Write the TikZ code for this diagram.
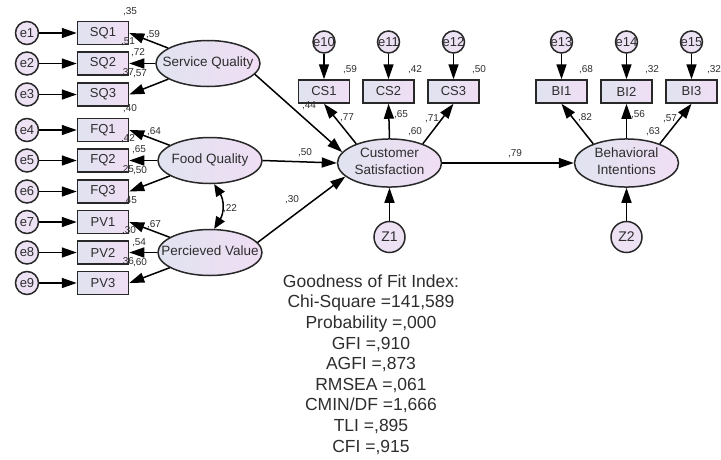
\documentclass[tikz,border=0pt]{standalone}
\usepackage{fontspec}
\setmainfont{Liberation Sans}
\usetikzlibrary{arrows.meta,shapes.geometric}
\definecolor{fillL}{RGB}{224,227,240}
\definecolor{fillR}{RGB}{240,222,244}
\definecolor{errfill}{RGB}{236,226,244}
\definecolor{edge}{RGB}{40,40,40}
\definecolor{txt}{RGB}{45,45,45}
\newcommand{\ztext}[1]{\makebox[0pt][c]{\begin{tabular}{@{}c@{}}#1\end{tabular}}}
\begin{document}
\begin{tikzpicture}[x=1pt,y=-1pt,
 every node/.style={text=txt},
 obs/.style={draw=edge, line width=1.5pt, left color=fillL, right color=fillR, minimum width=51pt, minimum height=23pt, inner sep=0pt, font=\fontsize{13}{15}\selectfont},
 lat/.style={ellipse, draw=edge, line width=1.5pt, left color=fillL, right color=fillR, minimum width=104pt, minimum height=46pt, inner sep=0pt, font=\fontsize{13.5}{17}\selectfont},
 err/.style={circle, draw=edge, line width=1.5pt, fill=errfill, minimum size=23pt, inner sep=0pt, font=\fontsize{13}{15}\selectfont},
 errs/.style={err, minimum size=22pt},
 dist/.style={err, minimum size=31pt, font=\fontsize{14}{16}\selectfont},
 num/.style={font=\fontsize{10}{12}\selectfont, inner sep=0pt},
 arr/.style={draw=black, line width=1.5pt, -{Triangle[length=15pt,width=10pt]}},
 dbl/.style={draw=black, line width=1.5pt, {Triangle[length=12pt,width=10pt]}-{Triangle[length=12pt,width=10pt]}},
]
\useasboundingbox (0,0) rectangle (721,459);

% error terms left
\foreach \i/\y in {1/33,2/63.5,3/94.5,4/130,5/160.5,6/191.5,7/222,8/252.5,9/283}
  \node[err] (e\i) at (27,\y) {\makebox[0pt]{e\i}};
% observed left
\node[obs] (SQ1) at (103,33) {SQ1};
\node[obs] (SQ2) at (103,63.5) {SQ2};
\node[obs] (SQ3) at (103,94.5) {SQ3};
\node[obs] (FQ1) at (103,130) {FQ1};
\node[obs] (FQ2) at (103,160.5) {FQ2};
\node[obs] (FQ3) at (103,191.5) {FQ3};
\node[obs] (PV1) at (103,222) {PV1};
\node[obs] (PV2) at (103,252.5) {PV2};
\node[obs] (PV3) at (103,283) {PV3};
% latent
\node[lat] (SQ) at (208,63.5) {\ztext{Service Quality}};
\node[lat] (FQ) at (210,160.5) {\ztext{Food Quality}};
\node[lat] (PV) at (210,252.5) {\ztext{Percieved Value}};
\node[lat] (CS) at (389.5,163) {\ztext{Customer\\Satisfaction}};
\node[lat] (BI) at (626.5,163) {\ztext{Behavioral\\Intentions}};
% observed top
\node[obs] (CS1) at (324,91.5) {CS1};
\node[obs] (CS2) at (388.5,91.5) {CS2};
\node[obs] (CS3) at (453.5,91.5) {CS3};
\node[obs] (BI1) at (561.5,91.5) {BI1};
\node[obs] (BI2) at (626.5,91.5) {BI2};
\node[obs] (BI3) at (691.5,91.5) {BI3};
\node[errs] (e10) at (324,42) {\makebox[0pt]{e10}};
\node[errs] (e11) at (388.5,42) {\makebox[0pt]{e11}};
\node[errs] (e12) at (453.5,42) {\makebox[0pt]{e12}};
\node[errs] (e13) at (561.5,42) {\makebox[0pt]{e13}};
\node[errs] (e14) at (626.5,42) {\makebox[0pt]{e14}};
\node[errs] (e15) at (691.5,42) {\makebox[0pt]{e15}};
\node[dist] (Z1) at (389.5,237) {Z1};
\node[dist] (Z2) at (626.5,237) {Z2};

% arrows error -> observed
\foreach \a/\b in {e1/SQ1,e2/SQ2,e3/SQ3,e4/FQ1,e5/FQ2,e6/FQ3,e7/PV1,e8/PV2,e9/PV3,e10/CS1,e11/CS2,e12/CS3,e13/BI1,e14/BI2,e15/BI3}
  \draw[arr] (\a) -- (\b);
% latent -> indicators (left)
\foreach \a/\b in {SQ/SQ1,SQ/SQ2,SQ/SQ3,FQ/FQ1,FQ/FQ2,FQ/FQ3,PV/PV1,PV/PV2,PV/PV3}
  \draw[arr] (\a) -- (\b.east);
% structural
\draw[arr] (SQ.-13) -- (CS.167);
\draw[arr] (FQ.east) -- (CS.west);
\draw[arr] (PV.12) -- (CS.197);
\draw[arr] (CS.east) -- (BI.west);
\draw[arr] (Z1) -- (CS);
\draw[arr] (Z2) -- (BI);
% top indicators
\draw[arr] (CS.150) -- (CS1.south);
\draw[arr] (CS.north) -- (CS2.south);
\draw[arr] (CS.30) -- (CS3.south);
\draw[arr] (BI.150) -- (BI1.south);
\draw[arr] (BI.north) -- (BI2.south);
\draw[arr] (BI.30) -- (BI3.south);
% correlation
\draw[dbl] (FQ.-80) .. controls +(10,16) and +(10,-16) .. (PV.80);

% numbers
\node[num] (r1) at (130,11.5) {,35};
\node[num] (r2) at (128,42) {,51};
\node[num] (r3) at (127,73) {,37};
\node[num] (r4) at (130,108.5) {,40};
\node[num] (r5) at (128,139) {,42};
\node[num] (r6) at (127,170) {,25};
\node[num] (r7) at (130,200.5) {,45};
\node[num] (r8) at (129,231) {,30};
\node[num] (r9) at (127,261.5) {,36};
\node[num] (l1) at (153,35) {,59};
\node[num] (l2) at (138,53) {,72};
\node[num] (l3) at (140,74) {,57};
\node[num] (l4) at (154,132) {,64};
\node[num] (l5) at (139,150) {,65};
\node[num] (l6) at (140,171) {,50};
\node[num] (l7) at (154,225) {,67};
\node[num] (l8) at (139,243) {,54};
\node[num] (l9) at (140,263) {,60};
\node[num] (c22) at (230,209) {,22};
\node[num] (r10) at (350,70) {,59};
\node[num] (r11) at (415,70) {,42};
\node[num] (r12) at (479,70) {,50};
\node[num] (r13) at (586,70) {,68};
\node[num] (r14) at (652,70) {,32};
\node[num] (r15) at (714,70) {,32};
\node[num] (p1) at (309,106) {,44};
\node[num] (p2) at (305,153) {,50};
\node[num] (p3) at (292,200) {,30};
\node[num] (p4) at (515,154) {,79};
\node[num] (l10) at (347,118) {,77};
\node[num] (l11) at (401,115) {,65};
\node[num] (l12) at (432,119) {,71};
\node[num] (rcs) at (415,132) {,60};
\node[num] (l13) at (585,118) {,82};
\node[num] (l14) at (638,115) {,56};
\node[num] (l15) at (670,119) {,57};
\node[num] (rbi) at (653,132) {,63};

% fit indices
\node[align=center, inner sep=0pt, font=\fontsize{17.5}{20.6}\selectfont] (fit) at (371,364.5)
 {Goodness of Fit Index:\\Chi-Square =141,589\\Probability =,000\\GFI =,910\\AGFI =,873\\RMSEA =,061\\CMIN/DF =1,666\\TLI =,895\\CFI =,915};
\end{tikzpicture}
\end{document}
